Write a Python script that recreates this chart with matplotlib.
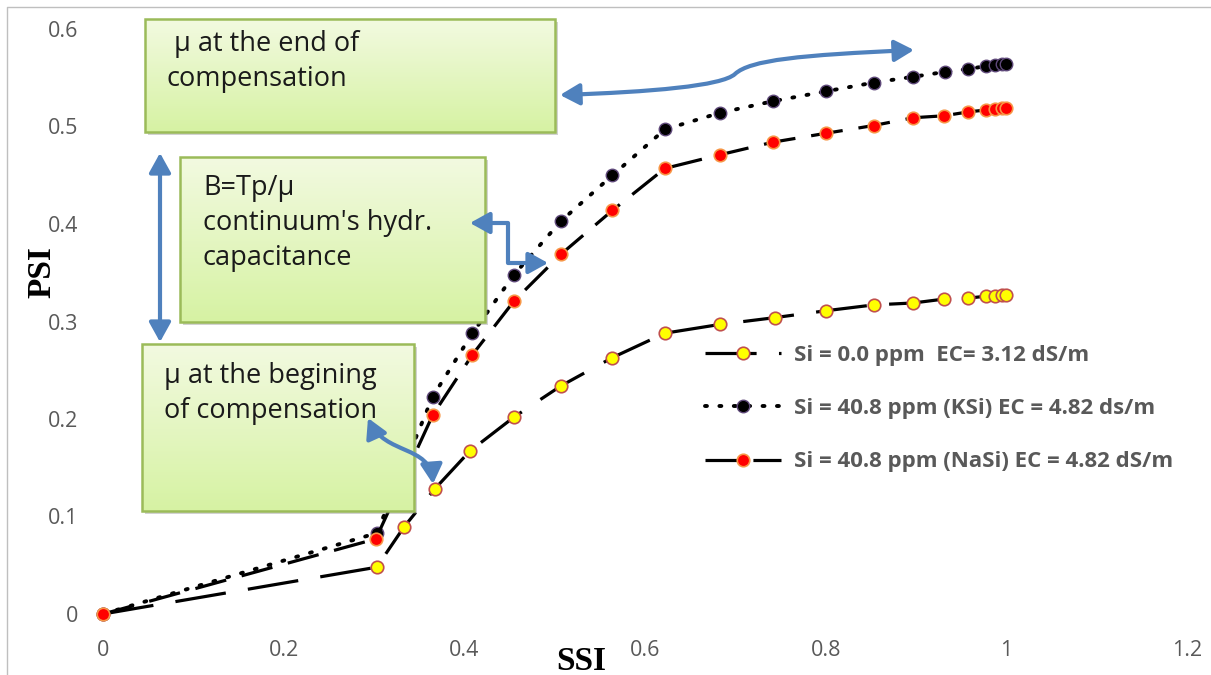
import matplotlib
matplotlib.use("Agg")
import matplotlib.pyplot as plt
import numpy as np
from matplotlib.patches import Rectangle, FancyArrowPatch
from matplotlib.path import Path

# data
ssi_si0 = [0, 0.303, 0.333, 0.367, 0.406, 0.455, 0.507, 0.564, 0.622, 0.683, 0.744,
           0.800, 0.853, 0.897, 0.931, 0.958, 0.978, 0.988, 0.995, 1.0]
psi_si0 = [0, 0.048, 0.089, 0.128, 0.167, 0.202, 0.234, 0.263, 0.288, 0.297, 0.304,
           0.311, 0.317, 0.319, 0.323, 0.324, 0.326, 0.326, 0.327, 0.327]

ssi_ksi = [0, 0.303, 0.365, 0.409, 0.455, 0.507, 0.564, 0.622, 0.683, 0.742,
           0.800, 0.853, 0.897, 0.932, 0.958, 0.978, 0.988, 0.995, 1.0]
psi_ksi = [0, 0.083, 0.223, 0.288, 0.348, 0.403, 0.450, 0.497, 0.514, 0.526,
           0.536, 0.545, 0.551, 0.556, 0.559, 0.562, 0.563, 0.564, 0.564]

ssi_nasi = [0, 0.302, 0.365, 0.409, 0.455, 0.507, 0.564, 0.622, 0.683, 0.742,
            0.800, 0.853, 0.897, 0.931, 0.958, 0.978, 0.988, 0.995, 1.0]
psi_nasi = [0, 0.077, 0.204, 0.266, 0.321, 0.369, 0.414, 0.457, 0.471, 0.484,
            0.493, 0.501, 0.509, 0.511, 0.515, 0.517, 0.518, 0.519, 0.519]

labels = ["Si = 0.0 ppm  EC= 3.12 dS/m",
          "Si = 40.8 ppm (KSi) EC = 4.82 ds/m",
          "Si = 40.8 ppm (NaSi) EC = 4.82 dS/m"]

x_ticks = [0, 0.2, 0.4, 0.6, 0.8, 1, 1.2]
y_ticks = [0, 0.1, 0.2, 0.3, 0.4, 0.5, 0.6]

W, H = 1211, 675
fig = plt.figure(figsize=(W / 100, H / 100), dpi=100)
ax = fig.add_axes([103 / W, 1 - 614 / H, 1084 / W, 585 / H])

font = ['Open Sans', 'DejaVu Sans']
grey = '#595959'

ax.plot(ssi_si0, psi_si0, color='black', lw=2.3, dashes=(16, 7),
        marker='o', ms=9, mfc='#FFFF00', mec='#C0504D', mew=1.2,
        clip_on=False, label=labels[0], zorder=3)
ax.plot(ssi_ksi, psi_ksi, color='black', lw=2.8, linestyle=(0, (0.5, 3.2)),
        dash_capstyle='round', marker='o', ms=9, mfc='black', mec='#5F497A',
        mew=1, clip_on=False, label=labels[1], zorder=3)
ax.plot(ssi_nasi, psi_nasi, color='black', lw=2.3, dashes=(10, 5),
        marker='o', ms=9, mfc='#FF0000', mec='#F79646', mew=1.2,
        clip_on=False, label=labels[2], zorder=4)

ax.set_xlim(0, 1.2)
ax.set_ylim(0, 0.6)
ax.set_xticks(x_ticks)
ax.set_yticks(y_ticks)
ax.set_xticklabels([str(t) for t in x_ticks], family=font, fontsize=15.5, color=grey)
ax.set_yticklabels([str(t) for t in y_ticks], family=font, fontsize=15.5, color=grey)
ax.tick_params(axis='y', length=0, pad=18)
ax.tick_params(axis='x', length=0, pad=19)
for s in ax.spines.values():
    s.set_visible(False)
ax.patch.set_alpha(0)

fig.text(581 / W, 1 - 661 / H, 'SSI', family='Liberation Serif', fontweight='bold',
         fontsize=24, ha='center', va='center')
fig.text(42 / W, 1 - 272 / H, 'PSI', family='Liberation Serif', fontweight='bold',
         fontsize=24, ha='center', va='center', rotation=90)

leg = ax.legend(loc='upper left', bbox_to_anchor=(685 / W, 1 - 325 / H),
                bbox_transform=fig.transFigure, frameon=False, handlelength=3.4,
                handletextpad=0.6, labelspacing=1.45,
                prop={'family': font, 'weight': 'bold', 'size': 16})
for t in leg.get_texts():
    t.set_color(grey)

# overlay in pixel coordinates for boxes and arrows
ov = fig.add_axes([0, 0, 1, 1], zorder=10)
ov.set_axis_off()
ov.patch.set_alpha(0)

# chart frame
ov.plot([7, 7, W], [H, 7, 7], color='#BFBFBF', lw=1)

grad = np.linspace(0, 1, 64)[:, None, None]
top = np.array([0.95, 0.98, 0.88])
bot = np.array([0.84, 0.95, 0.64])
grad_img = top * (1 - grad) + bot * grad

boxes = [(145, 19, 555, 132, [" μ at the end of", "compensation"], 167, 44),
         (180, 157, 485, 322, ["B=Tp/μ", "continuum's hydr.", "capacitance"], 203, 188),
         (142, 344, 414, 511, ["μ at the begining", "of compensation"], 164, 376)]
for x0, y0, x1, y1, lines, tx, ty in boxes:
    ov.add_patch(Rectangle((x0 + 3, y0 + 3), x1 - x0, y1 - y0, color='grey',
                           alpha=0.35, lw=0, zorder=1))
    ov.imshow(grad_img, extent=(x0, x1, y1, y0), aspect='auto', origin='upper',
              zorder=2)
    ov.add_patch(Rectangle((x0, y0), x1 - x0, y1 - y0, fill=False,
                           ec='#9BBB59', lw=1.8, zorder=3))
    for i, line in enumerate(lines):
        ov.text(tx, ty + 35 * i, line, family=font, fontsize=19.5, color='#1a1a1a',
                ha='left', va='center', zorder=4)

blue = '#4F81BD'
astyle = '<|-|>,head_length=9,head_width=5'
paths = [
    Path([(560, 95), (650, 92), (722, 86), (735, 74), (750, 60), (800, 55), (914, 50)],
         [Path.MOVETO, Path.CURVE4, Path.CURVE4, Path.CURVE4,
          Path.CURVE4, Path.CURVE4, Path.CURVE4]),
    Path([(160, 153), (160, 342)], [Path.MOVETO, Path.LINETO]),
    Path([(470, 223), (508, 223), (508, 263), (548, 263)],
         [Path.MOVETO, Path.LINETO, Path.LINETO, Path.LINETO]),
    Path([(368, 418), (385, 455), (430, 445), (433, 484)],
         [Path.MOVETO, Path.CURVE4, Path.CURVE4, Path.CURVE4]),
]
for p in paths:
    ov.add_patch(FancyArrowPatch(path=p, arrowstyle=astyle, color=blue, lw=3,
                                 mutation_scale=1.3, zorder=5))

ov.set_xlim(0, W)
ov.set_ylim(H, 0)

fig.savefig('out.png', dpi=100)
